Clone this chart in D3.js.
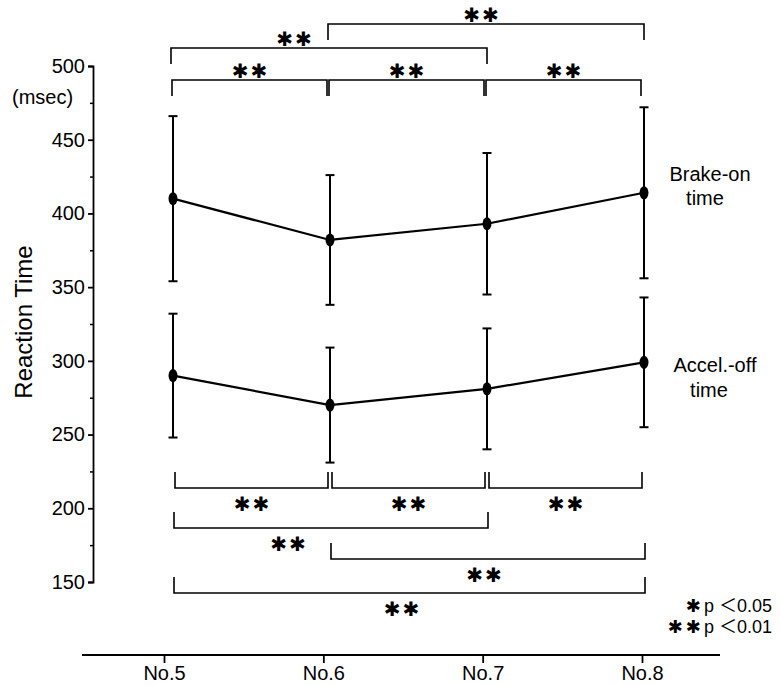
<!DOCTYPE html>
<html>
<head>
<meta charset="utf-8">
<script src="https://cdn.jsdelivr.net/npm/d3@7/dist/d3.min.js"></script>
<style>
  body { margin: 0; background: #fff; }
  svg text { font-family: "Liberation Sans", Arial, sans-serif; fill: #000; }
  .star { font-family: "DejaVu Sans", sans-serif; }
</style>
</head>
<body>
<div id="chart"></div>
<script>
'use strict';

// data
const groups = ['No.5', 'No.6', 'No.7', 'No.8'];
const brakeMean = [410, 382, 393, 414];
const brakeSD = [56, 44, 48, 58];
const accelMean = [290, 270, 281, 299];
const accelSD = [42, 39, 41, 44];
const yTicks = [150, 200, 250, 300, 350, 400, 450, 500];
const yMinorTicks = [175, 225, 275, 325, 375, 425, 475];

// pairwise tests: [from, to, significance]
const brakeTests = [
  ['No.5', 'No.6', '**'], ['No.6', 'No.7', '**'], ['No.7', 'No.8', '**'],
  ['No.5', 'No.7', '**'], ['No.6', 'No.8', '**']
];
const accelTests = [
  ['No.5', 'No.6', '**'], ['No.6', 'No.7', '**'], ['No.7', 'No.8', '**'],
  ['No.5', 'No.7', '**'], ['No.6', 'No.8', '**'], ['No.5', 'No.8', '**']
];
const legendRows = [['*', 'p \uFF1C0.05'], ['**', 'p \uFF1C0.01']];

// layout of the brackets (pixels), one entry per test
const brakeBracketY = [80, 80, 80, 48, 24];
const brakeStarDx = [0, 0, 0, -35, -5];
const accelBracketY = [488, 488, 488, 528, 559, 593];
const accelStarDx = [0, 0, 0, -43, -4, -8];

const W = 780, H = 685;

const svg = d3.select('#chart').append('svg')
    .attr('width', W)
    .attr('height', H);

svg.append('rect').attr('width', W).attr('height', H).attr('fill', '#fff');

const y = d3.scaleLinear().domain([150, 500]).range([582, 66]);
const x = d3.scalePoint().domain(groups).range([173, 644]);      // data positions
const xAxisScale = d3.scalePoint().domain(groups).range([164, 642]);

// y axis
const yAxis = svg.append('g')
    .attr('transform', 'translate(93,0)')
    .call(d3.axisLeft(y).tickValues(yTicks).tickSize(5).tickSizeOuter(5).tickPadding(3));
yAxis.attr('font-family', null);
yAxis.selectAll('text').attr('font-size', 20);
yAxis.selectAll('path, line').attr('stroke', '#000').attr('stroke-width', 1.8);

svg.append('g')
    .attr('transform', 'translate(93,0)')
    .call(d3.axisLeft(y).tickValues(yMinorTicks).tickSize(3).tickFormat(''))
    .call(g => g.select('.domain').remove())
    .selectAll('line').attr('stroke', '#000').attr('stroke-width', 1.5);

svg.append('text')
    .attr('x', 12).attr('y', 104)
    .attr('font-size', 20)
    .text('(msec)');

svg.append('text')
    .attr('transform', 'translate(32,322) rotate(-90)')
    .attr('text-anchor', 'middle')
    .attr('font-size', 24)
    .text('Reaction Time');

// x axis
svg.append('line')
    .attr('x1', 82).attr('x2', 720)
    .attr('y1', 655).attr('y2', 655)
    .attr('stroke', '#000').attr('stroke-width', 1.8);

const xAxis = svg.append('g')
    .attr('transform', 'translate(0,655)')
    .call(d3.axisBottom(xAxisScale).tickSize(8).tickSizeOuter(0).tickPadding(3));
xAxis.select('.domain').remove();
xAxis.attr('font-family', null);
xAxis.selectAll('line').attr('stroke', '#000').attr('stroke-width', 1.8);
xAxis.selectAll('text').attr('font-size', 20);

// series
function drawSeries(means, sds) {
  const pts = groups.map((g, i) => ({ g, m: means[i], s: sds[i] }));
  const g = svg.append('g');

  g.selectAll('.err').data(pts).join('line')
      .attr('x1', d => x(d.g)).attr('x2', d => x(d.g))
      .attr('y1', d => y(d.m + d.s)).attr('y2', d => y(d.m - d.s))
      .attr('stroke', '#000').attr('stroke-width', 2);

  [1, -1].forEach(sign => {
    g.selectAll(null).data(pts).join('line')
        .attr('x1', d => x(d.g) - 4.5).attr('x2', d => x(d.g) + 4.5)
        .attr('y1', d => y(d.m + sign * d.s)).attr('y2', d => y(d.m + sign * d.s))
        .attr('stroke', '#000').attr('stroke-width', 2);
  });

  g.append('path')
      .datum(pts)
      .attr('fill', 'none')
      .attr('stroke', '#000')
      .attr('stroke-width', 2.2)
      .attr('d', d3.line().x(d => x(d.g)).y(d => y(d.m)));

  g.selectAll('ellipse').data(pts).join('ellipse')
      .attr('cx', d => x(d.g)).attr('cy', d => y(d.m))
      .attr('rx', 4.5).attr('ry', 6.5)
      .attr('fill', '#000');
}

drawSeries(brakeMean, brakeSD);
drawSeries(accelMean, accelSD);

// series labels
const labels = svg.append('g').attr('font-size', 20).attr('text-anchor', 'middle');
labels.append('text').attr('x', 710).attr('y', 181).text('Brake-on');
labels.append('text').attr('x', 705).attr('y', 205).text('time');
labels.append('text').attr('x', 715).attr('y', 372).text('Accel.-off');
labels.append('text').attr('x', 709).attr('y', 397).text('time');

// significance brackets
const starText = s => s.replace(/\*/g, '\u2731');

function drawBrackets(tests, lineY, starDx, dir) {
  // dir = 1: legs hang down (above the data), -1: legs point up (below)
  const g = svg.append('g');
  tests.forEach((t, i) => {
    const adjacent = groups.indexOf(t[1]) - groups.indexOf(t[0]) === 1;
    const x0 = x(t[0]) + (adjacent ? 1 : 0) - (dir > 0 ? 2 : -1);
    const x1 = x(t[1]) - (adjacent ? 3 : 0) + (dir > 0 ? 0 : 1);
    const ly = lineY[i];
    const leg = 16 * dir;
    g.append('path')
        .attr('d', `M${x0},${ly + leg}V${ly}H${x1}V${ly + leg}`)
        .attr('fill', 'none')
        .attr('stroke', '#000')
        .attr('stroke-width', 1.6);
    g.append('text')
        .attr('class', 'star')
        .attr('x', (x0 + x1) / 2 + starDx[i] + 1)
        .attr('y', dir > 0 ? ly - 9 : ly + 16)
        .attr('text-anchor', 'middle')
        .attr('dominant-baseline', 'central')
        .attr('font-size', 20)
        .attr('letter-spacing', 2)
        .text(starText(t[2]));
  });
}

drawBrackets(brakeTests, brakeBracketY, brakeStarDx, 1);
drawBrackets(accelTests, accelBracketY, accelStarDx, -1);

// legend
const legend = svg.append('g');
legendRows.forEach((r, i) => {
  const t = legend.append('text')
      .attr('x', 772)
      .attr('y', 612 + i * 21)
      .attr('text-anchor', 'end')
      .attr('font-size', 18);
  t.append('tspan')
      .attr('class', 'star')
      .attr('font-size', 18)
      .attr('letter-spacing', 3)
      .text(starText(r[0]));
  t.append('tspan')
      .style('font-family', '"Liberation Sans", "Noto Sans CJK JP", sans-serif')
      .text(r[1]);
});
</script>
</body>
</html>
